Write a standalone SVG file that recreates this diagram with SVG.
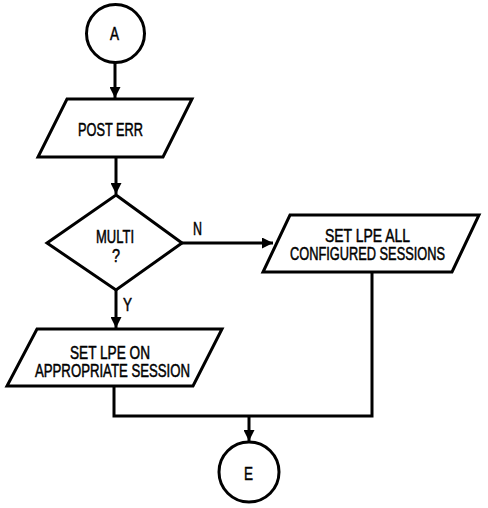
<svg xmlns="http://www.w3.org/2000/svg" width="488" height="508" viewBox="0 0 488 508">
<style>
.s{fill:#fff;stroke:#000;stroke-width:3;stroke-linejoin:miter}
.c{fill:none;stroke:#000;stroke-width:3}
.t{font-family:"Liberation Sans",Arial,sans-serif;font-size:18px;fill:#000;stroke:#000;stroke-width:0.5;text-anchor:middle}
</style>
<defs>
<marker id="ah" markerWidth="13" markerHeight="11" refX="11" refY="5.5" orient="auto" markerUnits="userSpaceOnUse">
<path d="M0,0 L11,5.5 L0,11 Z" fill="#000"/>
</marker>
</defs>
<rect width="488" height="508" fill="#fff"/>
<g id="connectors">
<line class="c" x1="115" y1="63" x2="115" y2="98" marker-end="url(#ah)"/>
<line class="c" x1="116" y1="157" x2="116" y2="194" marker-end="url(#ah)"/>
<line class="c" x1="182" y1="243" x2="273" y2="243" marker-end="url(#ah)"/>
<line class="c" x1="116" y1="290" x2="116" y2="328" marker-end="url(#ah)"/>
<polyline class="c" points="114,386 114,416 372,416 372,272"/>
<line class="c" x1="249" y1="416" x2="249" y2="441" marker-end="url(#ah)"/>
<text class="t" x="197.5" y="235" textLength="9" lengthAdjust="spacingAndGlyphs">N</text>
<text class="t" x="127.5" y="311" textLength="9" lengthAdjust="spacingAndGlyphs">Y</text>
</g>
<g id="nodeA">
<circle class="s" cx="115.5" cy="33.5" r="29"/>
<text class="t" x="114.5" y="40" textLength="9" lengthAdjust="spacingAndGlyphs">A</text>
</g>
<g id="postErr">
<polygon class="s" points="67,99 192,99 163,157 38,157"/>
<text class="t" x="110.5" y="136" textLength="65" lengthAdjust="spacingAndGlyphs">POST ERR</text>
</g>
<g id="multi">
<polygon class="s" points="116,195 182,243 116,290 47,243"/>
<text class="t" x="115" y="243" textLength="38" lengthAdjust="spacingAndGlyphs">MULTI</text>
<text class="t" x="116" y="262" textLength="8" lengthAdjust="spacingAndGlyphs">?</text>
</g>
<g id="setLpeAll">
<polygon class="s" points="290,215 479,215 452,272 263,272"/>
<text class="t" x="367.5" y="242" textLength="85" lengthAdjust="spacingAndGlyphs">SET LPE ALL</text>
<text class="t" x="367.5" y="260" textLength="155" lengthAdjust="spacingAndGlyphs">CONFIGURED SESSIONS</text>
</g>
<g id="setLpeOn">
<polygon class="s" points="37,329 222,329 193,386 7,386"/>
<text class="t" x="110" y="359" textLength="80" lengthAdjust="spacingAndGlyphs">SET LPE ON</text>
<text class="t" x="112.5" y="377" textLength="155" lengthAdjust="spacingAndGlyphs">APPROPRIATE SESSION</text>
</g>
<g id="nodeE">
<circle class="s" cx="249" cy="472" r="30"/>
<text class="t" x="248.5" y="480" textLength="9" lengthAdjust="spacingAndGlyphs">E</text>
</g>
</svg>
